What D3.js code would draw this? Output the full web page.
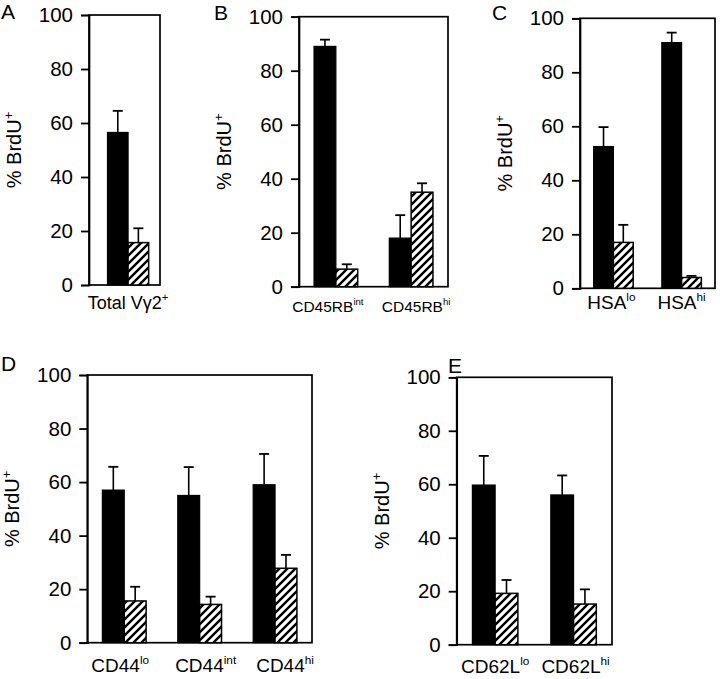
<!DOCTYPE html>
<html><head><meta charset="utf-8">
<script src="https://cdn.jsdelivr.net/npm/d3@7"></script>
<style>
body{margin:0;background:#fff}
text{font-family:"Liberation Sans",Arial,Helvetica,sans-serif;fill:#000}
</style>
</head><body>
<svg id="chart" width="720" height="679"></svg>
<script>
// ---------- data ----------
const yTicks = [0, 20, 40, 60, 80, 100];
const yTitle = "% BrdU", yTitleSup = "+";

const lettersAll = ["A", "B", "C", "D", "E"];

const catBaseA = ["Total Vγ2"], catSupA = ["+"];
const solidA = [56.5], solidErrA = [8.0];
const hatchA = [15.7], hatchErrA = [5.3];

const catBaseB = ["CD45RB", "CD45RB"], catSupB = ["int", "hi"];
const solidB = [89, 18], solidErrB = [2.5, 8.5];
const hatchB = [6.5, 35], hatchErrB = [1.8, 3.3];

const catBaseC = ["HSA", "HSA"], catSupC = ["lo", "hi"];
const solidC = [52.5, 91], solidErrC = [7.2, 3.7];
const hatchC = [17, 4], hatchErrC = [6.5, 0.6];

const catBaseD = ["CD44", "CD44", "CD44"], catSupD = ["lo", "int", "hi"];
const solidD = [57, 55, 59], solidErrD = [8.7, 10.6, 11.5];
const hatchD = [15.6, 14.3, 27.8], hatchErrD = [5.3, 2.9, 5.0];

const catBaseE = ["CD62L", "CD62L"], catSupE = ["lo", "hi"];
const solidE = [59.7, 56], solidErrE = [10.9, 7.3];
const hatchE = [19.2, 15.2], hatchErrE = [5.0, 5.5];

// ---------- layout ----------
const panels = [
  {letter: lettersAll[0], base: catBaseA, sup: catSupA, solid: solidA, solidErr: solidErrA, hatch: hatchA, hatchErr: hatchErrA,
   x0: 89, x1: 160, yZero: 285, yTop: 15, align: 0.62, labFont: 18, labY: 309, labShift: [0], lx: 1, ly: 19},
  {letter: lettersAll[1], base: catBaseB, sup: catSupB, solid: solidB, solidErr: solidErrB, hatch: hatchB, hatchErr: hatchErrB,
   x0: 299, x1: 448, yZero: 286.7, yTop: 16.7, align: 0.5, labFont: 15.5, labY: 312, labShift: [-8, 5], lx: 214, ly: 20},
  {letter: lettersAll[2], base: catBaseC, sup: catSupC, solid: solidC, solidErr: solidErrC, hatch: hatchC, hatchErr: hatchErrC,
   x0: 580, x1: 715, yZero: 288.3, yTop: 18.3, align: 0.5, labFont: 19, labY: 309, labShift: [-2, 0], lx: 492, ly: 20},
  {letter: lettersAll[3], base: catBaseD, sup: catSupD, solid: solidD, solidErr: solidErrD, hatch: hatchD, hatchErr: hatchErrD,
   x0: 87.3, x1: 312, yZero: 642.7, yTop: 375, align: 0.5, labFont: 19, labY: 672, labShift: [-4, 6, 10], lx: 1, ly: 371},
  {letter: lettersAll[4], base: catBaseE, sup: catSupE, solid: solidE, solidErr: solidErrE, hatch: hatchE, hatchErr: hatchErrE,
   x0: 456.7, x1: 612, yZero: 644.7, yTop: 377.3, align: 0.5, labFont: 19, labY: 673, labShift: [0, 2], lx: 448, ly: 373}
];

const svg = d3.select("#chart");

// hatch pattern
const defs = svg.append("defs");
const pat = defs.append("pattern")
  .attr("id", "hatch").attr("patternUnits", "userSpaceOnUse")
  .attr("width", 8).attr("height", 8);
pat.append("rect").attr("width", 8).attr("height", 8).attr("fill", "#fff");
pat.append("path")
  .attr("d", "M-2,2 L2,-2 M0,8 L8,0 M6,10 L10,6")
  .attr("stroke", "#000").attr("stroke-width", 2.4);

panels.forEach(p => {
  const g = svg.append("g");
  const n = p.solid.length;
  const idx = d3.range(n);
  const x = d3.scaleBand().domain(idx).range([p.x0, p.x1])
    .paddingInner(0.42).paddingOuter(0.2).align(p.align);
  const y = d3.scaleLinear().domain([0, 100]).range([p.yZero, p.yTop]);
  const bw = x.bandwidth() / 2;

  // frame
  g.append("rect")
    .attr("x", p.x0).attr("y", y(100))
    .attr("width", p.x1 - p.x0).attr("height", y(0) - y(100))
    .attr("fill", "none").attr("stroke", "#000").attr("stroke-width", 1.7);

  // axis
  const ax = g.append("g").attr("transform", `translate(${p.x0},0)`)
    .call(d3.axisLeft(y).tickValues(yTicks).tickSize(8).tickPadding(8));
  ax.select(".domain").attr("stroke", "#000").attr("stroke-width", 1.7);
  ax.selectAll(".tick line").attr("stroke", "#000").attr("stroke-width", 1.8);
  ax.selectAll(".tick text").attr("font-size", 20.5)
    .attr("font-family", '"Liberation Sans",Arial,sans-serif').attr("fill", "#000");

  // y title
  const t = g.append("text")
    .attr("transform", `translate(${p.x0 - 68},${(y(0) + y(100)) / 2}) rotate(-90)`)
    .attr("text-anchor", "middle").attr("font-size", 20);
  t.append("tspan").text(yTitle);
  t.append("tspan").text(yTitleSup).attr("font-size", 13).attr("dy", -8);

  // error bars
  const errs = [];
  idx.forEach(i => {
    errs.push({cx: x(i) + bw / 2, v: p.solid[i], e: p.solidErr[i]});
    errs.push({cx: x(i) + bw * 1.5, v: p.hatch[i], e: p.hatchErr[i]});
  });
  g.selectAll(".ev").data(errs).join("line")
    .attr("x1", d => d.cx).attr("x2", d => d.cx)
    .attr("y1", d => y(d.v)).attr("y2", d => y(d.v + d.e))
    .attr("stroke", "#000").attr("stroke-width", 1.6);
  g.selectAll(".ec").data(errs).join("line")
    .attr("x1", d => d.cx - 5).attr("x2", d => d.cx + 5)
    .attr("y1", d => y(d.v + d.e)).attr("y2", d => y(d.v + d.e))
    .attr("stroke", "#000").attr("stroke-width", 1.8);

  // solid bars
  g.selectAll(".sb").data(idx).join("rect")
    .attr("x", i => x(i)).attr("width", bw)
    .attr("y", i => y(p.solid[i])).attr("height", i => y(0) - y(p.solid[i]))
    .attr("fill", "#000").attr("stroke", "#000").attr("stroke-width", 1.2);
  // hatched bars
  g.selectAll(".hb").data(idx).join("rect")
    .attr("x", i => x(i) + bw).attr("width", bw)
    .attr("y", i => y(p.hatch[i])).attr("height", i => y(0) - y(p.hatch[i]))
    .attr("fill", "url(#hatch)").attr("stroke", "#000").attr("stroke-width", 1.5);

  // category labels
  idx.forEach(i => {
    const lt = g.append("text")
      .attr("x", x(i) + x.bandwidth() / 2 + p.labShift[i]).attr("y", p.labY)
      .attr("text-anchor", "middle").attr("font-size", p.labFont);
    lt.append("tspan").text(p.base[i]);
    lt.append("tspan").text(p.sup[i]).attr("font-size", p.labFont * 0.62).attr("dy", -p.labFont * 0.42);
  });

  // panel letter
  g.append("text").attr("x", p.lx).attr("y", p.ly).attr("font-size", 21).text(p.letter);
});
</script>
</body></html>
